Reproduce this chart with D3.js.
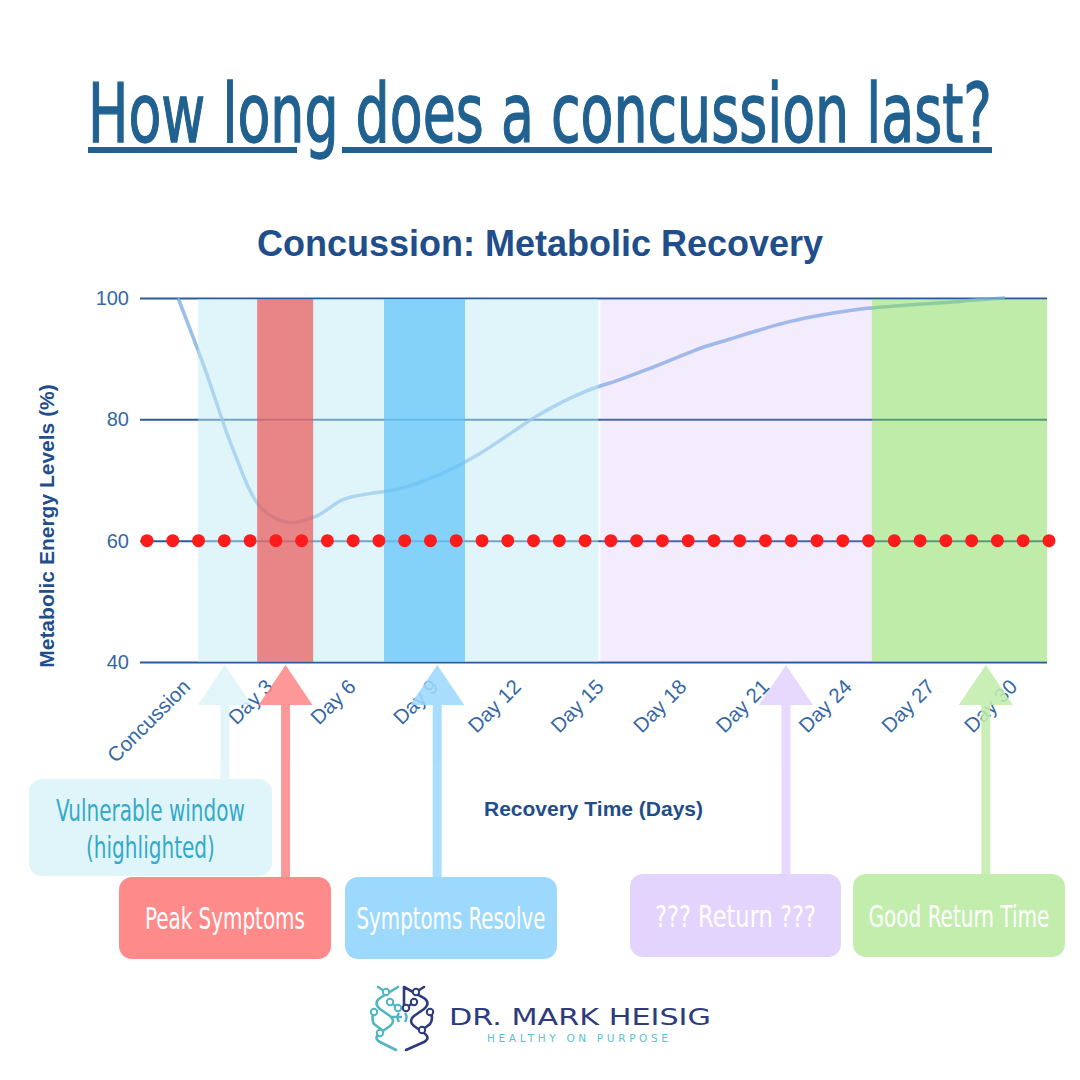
<!DOCTYPE html>
<html>
<head>
<meta charset="utf-8">
<script src="https://cdnjs.cloudflare.com/ajax/libs/d3/7.8.5/d3.min.js"></script>
<style>
html, body { margin: 0; padding: 0; background: #fff; }
svg { display: block; }
.narrow { font-family: "Liberation Sans Narrow", "DejaVu Sans Condensed", "Roboto", sans-serif; font-stretch: condensed; }
.arial { font-family: "Liberation Sans", Arial, sans-serif; }
</style>
</head>
<body>
<svg id="chart" width="1080" height="1080"></svg>
<script>
// metabolic energy (%) read once per day, day 0 = concussion
var energy = [100, 88, 75, 65.5, 63, 64, 66.8, 67.8, 68.5, 70, 72, 74.5, 77.5, 80.5, 83, 85,
              86.5, 88.2, 90, 91.8, 93.2, 94.6, 95.9, 96.9, 97.7, 98.3, 98.7, 99, 99.3, 99.7, 100];
var tickDays = [0, 3, 6, 9, 12, 15, 18, 21, 24, 27, 30];
var tickLabels = ["Concussion", "Day 3", "Day 6", "Day 9", "Day 12", "Day 15", "Day 18", "Day 21", "Day 24", "Day 27", "Day 30"];
var yTicks = [40, 60, 80, 100];
var threshold = 60;

// shaded windows, in days
var bandStart = [0.73, 2.87, 7.47, 15.32, 25.17];
var bandEnd   = [15.25, 4.9, 10.41, 25.17, 31.52];
var bandFill  = ["rgb(191,235,245)", "rgb(234,85,85)", "rgb(92,194,249)", "rgb(190,160,245)", "rgb(129,217,85)"];
var bandAlpha = [0.5, 0.7, 0.7, 0.2, 0.5];

// call-outs: day each arrow points at and its label
var arrowDays = [1.7, 3.9, 9.4, 22.05, 29.3];
var calloutText = [["Vulnerable window", "(highlighted)"], ["Peak Symptoms"], ["Symptoms Resolve"], ["??? Return ???"], ["Good Return Time"]];

var svg = d3.select("#chart");
var margin = {left: 140, right: 33, top: 298, bottom: 418};
var W = 1080, H = 1080;

var x = d3.scaleLinear().domain([-1.38, 31.52]).range([margin.left, W - margin.right]);
var y = d3.scaleLinear().domain([40, 100]).range([H - margin.bottom, margin.top]);

// squeeze a text to a given width (left edge x0, baseline y0)
function fitText(sel, x0, y0, width) {
  var w = sel.node().getComputedTextLength();
  sel.attr("x", 0).attr("y", 0)
    .attr("transform", "translate(" + x0 + "," + y0 + ") scale(" + (width / w) + ",1)");
}

// big heading
var title = svg.append("text")
  .attr("class", "narrow")
  .style("font-size", "82px").style("fill", "#216190")
  .style("stroke", "#216190").style("stroke-width", 1.3)
  .text("How long does a concussion last?");
fitText(title, 88, 142, 904);
svg.append("rect").attr("x", 88).attr("y", 147).attr("width", 209).attr("height", 6).attr("fill", "#216190");
svg.append("rect").attr("x", 342).attr("y", 147).attr("width", 650).attr("height", 6).attr("fill", "#216190");

svg.append("text")
  .attr("class", "arial")
  .attr("x", 540).attr("y", 256)
  .attr("text-anchor", "middle")
  .style("font-size", "36px").style("font-weight", "bold").style("fill", "#1f4e8b")
  .text("Concussion: Metabolic Recovery");

// gridlines + y labels
var gy = svg.append("g")
  .attr("class", "arial")
  .attr("transform", "translate(" + margin.left + ",0)")
  .call(d3.axisLeft(y).tickValues(yTicks).tickSizeInner(-(W - margin.left - margin.right)).tickSizeOuter(0).tickPadding(11));
gy.attr("font-family", null);
gy.select(".domain").remove();
gy.selectAll("line").attr("stroke", "#2b5b9b").attr("stroke-width", 2);
gy.selectAll("text").style("font-size", "20px").style("fill", "#3568a4");

// recovery curve
var line = d3.line()
  .x(function(d, i) { return x(i); })
  .y(function(d) { return y(d); })
  .curve(d3.curveCatmullRom.alpha(0.5));
svg.append("path")
  .datum(energy)
  .attr("d", line)
  .attr("fill", "none")
  .attr("stroke", "rgb(120,170,225)")
  .attr("stroke-opacity", 0.75)
  .attr("stroke-width", 3.5);

// shaded windows over the grid
svg.append("g").selectAll("rect")
  .data(bandStart)
  .enter().append("rect")
  .attr("x", function(d) { return x(d); })
  .attr("y", y(100) + 1)
  .attr("width", function(d, i) { return x(bandEnd[i]) - x(d); })
  .attr("height", y(40) - y(100) - 1)
  .attr("fill", function(d, i) { return bandFill[i]; })
  .attr("fill-opacity", function(d, i) { return bandAlpha[i]; });

// x axis labels
var gx = svg.append("g")
  .attr("class", "arial")
  .attr("transform", "translate(0," + y(40) + ")")
  .call(d3.axisBottom(x).tickValues(tickDays).tickFormat(function(d, i) { return tickLabels[i]; }).tickSize(0));
gx.attr("font-family", null);
gx.select(".domain").remove();
gx.selectAll("text")
  .attr("y", 0).attr("dy", 0)
  .attr("text-anchor", "end")
  .attr("transform", "translate(13,26) rotate(-45)")
  .style("font-size", "20.5px").style("fill", "#3568a4");

// threshold as dotted red line
svg.append("line")
  .attr("x1", 147).attr("x2", 1049)
  .attr("y1", y(threshold)).attr("y2", y(threshold))
  .attr("stroke", "#fe1b1b")
  .attr("stroke-width", 13)
  .attr("stroke-linecap", "round")
  .attr("stroke-dasharray", "0 25.77");

svg.append("text")
  .attr("class", "arial")
  .attr("transform", "translate(54,526) rotate(-90)")
  .attr("text-anchor", "middle")
  .style("font-size", "21px").style("font-weight", "bold").style("fill", "#1f4e8b")
  .text("Metabolic Energy Levels (%)");

svg.append("text")
  .attr("class", "arial")
  .attr("x", (x.range()[0] + x.range()[1]) / 2).attr("y", 816)
  .attr("text-anchor", "middle")
  .style("font-size", "21px").style("font-weight", "bold").style("fill", "#1f4e8b")
  .text("Recovery Time (Days)");

// call-out boxes and arrows
var boxes = [
  {x: 29, y: 779, w: 243, h: 97, fill: "#dff5fa", ink: "#35a9c8", fit: [189, 129]},
  {x: 119, y: 877, w: 212, h: 82, fill: "#fe8a8a", ink: "#fff", fit: [160]},
  {x: 345, y: 877, w: 212, h: 82, fill: "#9dd9fd", ink: "#fff", fit: [189]},
  {x: 630, y: 874, w: 211, h: 83, fill: "#e3d4fd", ink: "#fff", fit: [161]},
  {x: 853, y: 874, w: 212, h: 83, fill: "#c2edad", ink: "#fff", fit: [181]}
];

var arrows = svg.append("g").selectAll("g")
  .data(arrowDays)
  .enter().append("g")
  .attr("opacity", 0.88)
  .attr("fill", function(d, i) { return boxes[i].fill; });
arrows.append("path")
  .attr("d", function(d) {
    var cx = x(d), top = y(40) + 3;
    return "M" + cx + "," + top + "L" + (cx + 27) + "," + (top + 40) + "L" + (cx - 27) + "," + (top + 40) + "Z";
  });
arrows.append("rect")
  .attr("x", function(d) { return x(d) - 4.5; })
  .attr("y", y(40) + 42)
  .attr("width", 9)
  .attr("height", function(d, i) { return boxes[i].y - y(40) - 42; });

var cg = svg.append("g").selectAll("g")
  .data(boxes)
  .enter().append("g");
cg.append("rect")
  .attr("x", function(d) { return d.x; }).attr("y", function(d) { return d.y; })
  .attr("width", function(d) { return d.w; }).attr("height", function(d) { return d.h; })
  .attr("rx", 13)
  .attr("fill", function(d) { return d.fill; });
cg.each(function(b, i) {
  var lines = calloutText[i];
  var g = d3.select(this);
  lines.forEach(function(t, k) {
    var base = lines.length === 1 ? b.y + b.h / 2 + 11 : b.y + 42 + k * 37;
    var tx = g.append("text")
      .attr("class", "narrow")
      .style("font-size", "30px").style("fill", b.ink)
      .text(t);
    fitText(tx, b.x + b.w / 2 - b.fit[k] / 2, base, b.fit[k]);
  });
});

// logo
var logo = svg.append("g").attr("transform", "translate(368,984)");
var teal = "#4fb6c2", navy = "#2e3b7c";
logo.append("path")
  .attr("d", "M30,3 L12,14 Q5,19 12,25 L22,32 Q28,37 22,42 L12,49 Q5,54 12,58 L28,66 M18,8 L10,3 M6,28 Q3,34 6,40 L14,46 M22,18 L30,24")
  .attr("fill", "none").attr("stroke", teal).attr("stroke-width", 2.6).attr("stroke-linecap", "round");
logo.append("path")
  .attr("d", "M36,3 L56,14 Q63,19 56,25 L46,32 Q40,37 46,42 L56,49 Q63,54 56,58 L38,66 M48,8 L56,3 M62,28 Q66,34 62,40 L54,46 M46,18 L38,24 M36,3 L36,24")
  .attr("fill", "none").attr("stroke", navy).attr("stroke-width", 2.6).attr("stroke-linecap", "round");
logo.append("path").attr("d", "M24,33 L34,33 M31,29 Q28,33 31,38 M37,29 Q40,33 37,38")
  .attr("fill", "none").attr("stroke", teal).attr("stroke-width", 2.4);
var nodes = [[18, 8, teal], [6, 28, teal], [22, 18, teal], [12, 49, teal], [30, 24, teal], [48, 8, navy], [62, 28, navy], [46, 18, navy], [54, 46, navy], [38, 24, navy]];
logo.selectAll("circle").data(nodes).enter().append("circle")
  .attr("cx", function(d) { return d[0]; }).attr("cy", function(d) { return d[1]; })
  .attr("r", 3.2).attr("fill", "#fff")
  .attr("stroke", function(d) { return d[2]; }).attr("stroke-width", 2);

var brand = svg.append("text")
  .style("font-family", "'DejaVu Sans', sans-serif").style("font-size", "23px").style("fill", navy)
  .text("DR. MARK HEISIG");
fitText(brand, 449, 1025, 262);
svg.append("text")
  .attr("x", 487).attr("y", 1042)
  .attr("textLength", 181).attr("lengthAdjust", "spacing")
  .style("font-family", "'DejaVu Sans', sans-serif").style("font-size", "10.5px").style("fill", "#56c3d4")
  .text("HEALTHY ON PURPOSE");
</script>
</body>
</html>
